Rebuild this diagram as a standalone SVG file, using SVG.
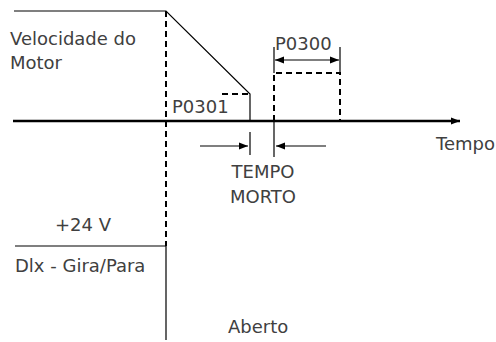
<svg xmlns="http://www.w3.org/2000/svg" width="496" height="342" viewBox="0 0 496 342">
<style>
text{font-family:"DejaVu Sans","Liberation Sans",sans-serif;font-size:18px;fill:#404040}
.s{fill:none;stroke:#000;stroke-width:1.2}
.d{fill:none;stroke:#000;stroke-width:2;stroke-dasharray:6,4}
.ax{fill:none;stroke:#000;stroke-width:2.4}
</style>
<defs>
<marker id="ah" viewBox="0 0 10 10" refX="10" refY="5" markerWidth="10" markerHeight="9" markerUnits="userSpaceOnUse" orient="auto-start-reverse">
<path d="M0,1 L10,5 L0,9 z" fill="#000"/>
</marker>
</defs>
<rect width="496" height="342" fill="#fff"/>
<g id="connectors">
<line class="ax" x1="13" y1="121" x2="460" y2="121" marker-end="url(#ah)"/>
<polyline class="s" points="14,11 166,11 250,94 250,121"/>
<line class="d" x1="222" y1="94" x2="250" y2="94"/>
<line class="d" x1="166" y1="11" x2="166" y2="246"/>
<polyline class="d" points="274,121 274,73 340,73 340,121"/>
<line class="s" x1="274" y1="47" x2="274" y2="73"/>
<line class="s" x1="340" y1="47" x2="340" y2="73"/>
<line class="s" x1="275" y1="60" x2="339" y2="60" stroke-width="1.6" marker-start="url(#ah)" marker-end="url(#ah)"/>
<line class="s" x1="250" y1="132" x2="250" y2="155"/>
<line class="s" x1="274" y1="121" x2="274" y2="157"/>
<line class="s" x1="200" y1="146" x2="248" y2="146" stroke-width="2" marker-end="url(#ah)"/>
<line class="s" x1="326" y1="146" x2="276" y2="146" stroke-width="2" marker-end="url(#ah)"/>
<polyline class="s" points="15,246 166,246 166,340"/>
</g>
<g id="labels">
<text x="10" y="44.5">Velocidade do</text>
<text x="10" y="69">Motor</text>
<text x="172" y="113">P0301</text>
<text x="275" y="50">P0300</text>
<text x="436" y="150">Tempo</text>
<text x="263" y="178" text-anchor="middle">TEMPO</text>
<text x="263" y="203" text-anchor="middle">MORTO</text>
<text x="55" y="231">+24 V</text>
<text x="15" y="272">Dlx - Gira/Para</text>
<text x="228" y="333">Aberto</text>
</g>
</svg>
